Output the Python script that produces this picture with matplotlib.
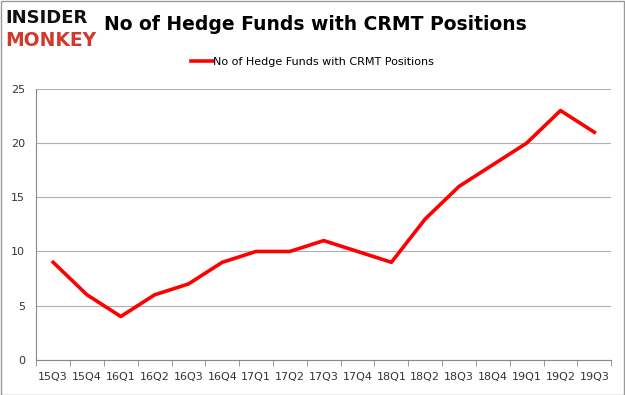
import matplotlib
matplotlib.use("Agg")
from matplotlib import pyplot as plt
from matplotlib.patches import Rectangle

quarters = ["15Q3", "15Q4", "16Q1", "16Q2", "16Q3", "16Q4", "17Q1", "17Q2", "17Q3",
            "17Q4", "18Q1", "18Q2", "18Q3", "18Q4", "19Q1", "19Q2", "19Q3"]
funds = [9, 6, 4, 6, 7, 9, 10, 10, 11, 10, 9, 13, 16, 18, 20, 23, 21]
yticks = [0, 5, 10, 15, 20, 25]
series_name = "No of Hedge Funds with CRMT Positions"

fig = plt.figure(figsize=(6.25, 3.95), dpi=100)
ax = fig.add_axes([0.058, 0.089, 0.92, 0.686])

x = list(range(len(quarters)))
ax.plot(x, funds, color="#ff0000", lw=2.6, label=series_name)

ax.set_xlim(-0.5, len(quarters) - 0.5)
ax.set_ylim(0, 25)
ax.set_yticks(yticks)
ax.set_xticks(x)
ax.set_xticklabels(quarters)
ax.set_xticks([i - 0.5 for i in range(len(quarters) + 1)], minor=True)
ax.tick_params(axis="x", which="major", length=0, pad=9, labelsize=8, labelcolor="#333333")
ax.tick_params(axis="x", which="minor", length=4, color="#888888")
ax.tick_params(axis="y", length=0, pad=8, labelsize=8, labelcolor="#333333")
ax.grid(axis="y", color="#b0b0b0", lw=0.8)
ax.set_axisbelow(True)
for side in ["top", "right"]:
    ax.spines[side].set_visible(False)
ax.spines["left"].set_color("#888888")
ax.spines["bottom"].set_color("#888888")

fig.legend(loc="center", bbox_to_anchor=(0.5, 0.843), frameon=False, fontsize=8,
           handlelength=2.0, handletextpad=0)

fig.text(0.505, 0.937, "No of Hedge Funds with CRMT Positions", ha="center", va="center",
         fontsize=13.5, fontweight="bold", color="#000000")
fig.text(0.008, 0.955, "INSIDER", ha="left", va="center", fontsize=13,
         fontweight="bold", color="#111111")
fig.text(0.008, 0.897, "MONKEY", ha="left", va="center", fontsize=13.5,
         fontweight="bold", color="#d0392b")

fig.patches.append(Rectangle((0.001, 0.001), 0.997, 0.997, transform=fig.transFigure,
                             fill=False, edgecolor="#999999", lw=1))

fig.savefig("out.png", dpi=100)
